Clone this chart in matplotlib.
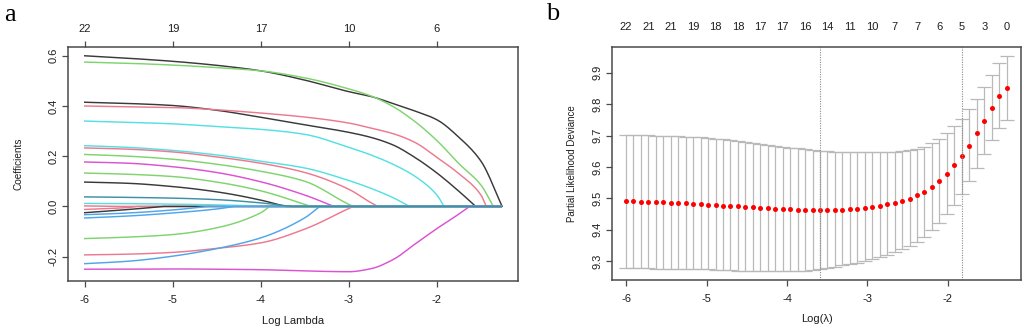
import numpy as np
import matplotlib
matplotlib.use("Agg")
import matplotlib.pyplot as plt

plt.rcParams['font.family'] = ['Liberation Sans', 'DejaVu Sans']

# ---------------- Panel a: LASSO coefficient paths ----------------
grid_x = [-6.0, -5.5, -5.0, -4.5, -4.0, -3.5, -3.0, -2.75, -2.5, -2.25, -2.0, -1.75, -1.5]
path_end = -1.27

coef_A = [0.600, 0.590, 0.578, 0.562, 0.540, 0.503, 0.457, 0.438, 0.410, 0.380, 0.345, 0.275, 0.180]
coef_B = [0.575, 0.570, 0.563, 0.553, 0.540, 0.512, 0.468, 0.440, 0.398, 0.338, 0.262, 0.170, 0.085]
coef_C = [0.415, 0.410, 0.402, 0.383, 0.355, 0.325, 0.295, 0.275, 0.245, 0.195, 0.133, 0.060]
coef_D = [0.400, 0.397, 0.394, 0.385, 0.372, 0.356, 0.332, 0.312, 0.290, 0.255, 0.195, 0.130, 0.045]
coef_E = [0.340, 0.335, 0.329, 0.318, 0.307, 0.287, 0.235, 0.205, 0.168, 0.120, 0.045]
coef_F = [0.242, 0.235, 0.223, 0.205, 0.180, 0.153, 0.103, 0.072, 0.035]
coef_G = [0.233, 0.228, 0.217, 0.197, 0.172, 0.135, 0.068, 0.015]
coef_H = [0.207, 0.200, 0.188, 0.168, 0.140, 0.100, 0.008]
coef_I = [0.177, 0.172, 0.158, 0.135, 0.098, 0.045]
coef_J = [0.133, 0.128, 0.119, 0.097, 0.062, 0.008]
coef_K = [0.097, 0.092, 0.079, 0.058, 0.025]
coef_L = [0.038, 0.036, 0.033, 0.027, 0.014]
coef_M = [0.012, 0.011, 0.009, 0.006, 0.001]
coef_N = [0.002]
coef_O = [-0.025, -0.012]
coef_P = [-0.012, -0.004]
coef_Q = [-0.033, -0.026, -0.014]
coef_R = [-0.046, -0.038, -0.026, -0.010]
coef_S = [-0.128, -0.122, -0.112, -0.085, -0.025]
coef_T = [-0.193, -0.190, -0.183, -0.167, -0.145, -0.090, -0.008]
coef_U = [-0.228, -0.218, -0.198, -0.168, -0.125, -0.045]
coef_V = [-0.250, -0.250, -0.249, -0.250, -0.252, -0.257, -0.260, -0.248, -0.212, -0.150, -0.088, -0.030]

coef_paths = [coef_N, coef_P, coef_O, coef_A, coef_B, coef_C, coef_D, coef_E, coef_F, coef_G,
              coef_H, coef_I, coef_J, coef_K, coef_M, coef_S, coef_T, coef_U, coef_V,
              coef_Q, coef_R, coef_L]
zero_at = [-5.6, -5.4, -5.1, -1.26, -1.36, -1.56, -1.44, -1.92, -2.31, -2.67,
           -2.95, -3.17, -3.43, -3.72, -3.95, -3.90, -2.95, -3.33, -1.63,
           -4.6, -4.3, -3.65]

BLACK, RED, GREEN, BLUE, CYAN, MAGENTA = '#3a3a3a', '#EC7A8E', '#7FD46E', '#4FA6EA', '#55E0E3', '#DB52D2'
coef_colors = [RED, RED, BLACK, BLACK, GREEN, BLACK, RED, CYAN, CYAN, RED,
               GREEN, MAGENTA, GREEN, BLACK, CYAN, GREEN, RED, BLUE, MAGENTA,
               BLUE, BLUE, '#3f8fa6']

top_a_ticks = [-6, -5, -4, -3, -2]
top_a_labels = ['22', '19', '17', '10', '6']

# ---------------- Panel b: cross-validation curve ----------------
log_lambda = [-6.000, -5.907, -5.815, -5.722, -5.629, -5.536, -5.444, -5.351, -5.258, -5.166,
              -5.073, -4.980, -4.888, -4.795, -4.702, -4.609, -4.517, -4.424, -4.331, -4.239,
              -4.146, -4.053, -3.961, -3.868, -3.775, -3.682, -3.590, -3.497, -3.404, -3.312,
              -3.219, -3.126, -3.034, -2.941, -2.848, -2.755, -2.663, -2.570, -2.477, -2.385,
              -2.292, -2.199, -2.106, -2.014, -1.921, -1.828, -1.736, -1.643, -1.550, -1.457,
              -1.365, -1.272]
cv_mean = [9.490, 9.490, 9.489, 9.489, 9.488, 9.487, 9.486, 9.485, 9.484, 9.483,
           9.482, 9.480, 9.479, 9.477, 9.476, 9.474, 9.472, 9.471, 9.469, 9.468,
           9.467, 9.466, 9.465, 9.464, 9.463, 9.462, 9.462, 9.462, 9.463, 9.464,
           9.465, 9.467, 9.470, 9.473, 9.477, 9.481, 9.486, 9.492, 9.499, 9.509,
           9.521, 9.536, 9.555, 9.578, 9.605, 9.634, 9.668, 9.707, 9.748, 9.787,
           9.826, 9.852]
cv_upper = [9.703, 9.703, 9.702, 9.701, 9.700, 9.700, 9.699, 9.698, 9.697, 9.695,
            9.694, 9.692, 9.690, 9.688, 9.686, 9.683, 9.680, 9.677, 9.674, 9.671,
            9.668, 9.665, 9.662, 9.659, 9.656, 9.653, 9.651, 9.650, 9.649, 9.648,
            9.648, 9.648, 9.648, 9.648, 9.648, 9.648, 9.649, 9.650, 9.653, 9.657,
            9.664, 9.675, 9.690, 9.707, 9.729, 9.754, 9.784, 9.818, 9.854, 9.892,
            9.930, 9.955]
cv_lower = [9.277, 9.277, 9.277, 9.277, 9.276, 9.276, 9.276, 9.275, 9.275, 9.274,
            9.274, 9.273, 9.272, 9.271, 9.270, 9.269, 9.268, 9.268, 9.267, 9.267,
            9.267, 9.267, 9.267, 9.268, 9.269, 9.271, 9.273, 9.278, 9.282, 9.286,
            9.290, 9.295, 9.301, 9.307, 9.313, 9.320, 9.328, 9.337, 9.349, 9.362,
            9.378, 9.398, 9.422, 9.450, 9.480, 9.515, 9.555, 9.598, 9.642, 9.685,
            9.724, 9.749]
nonzero_counts = ['22', '21', '21', '19', '18', '18', '17', '17', '16', '14', '11', '10',
                  '7', '7', '6', '5', '3', '0']
lambda_min = -3.590
lambda_1se = -1.828


def pchip_curve(x, y, per_seg=12):
    """Shape-preserving cubic drawn through the read points (rendering only)."""
    x = np.asarray(x, float)
    y = np.asarray(y, float)
    n = len(x)
    if n < 3:
        return x, y
    h = np.diff(x)
    delta = np.diff(y) / h
    d = np.zeros(n)
    for k in range(1, n - 1):
        if delta[k - 1] * delta[k] <= 0:
            d[k] = 0.0
        else:
            w1 = 2 * h[k] + h[k - 1]
            w2 = h[k] + 2 * h[k - 1]
            d[k] = (w1 + w2) / (w1 / delta[k - 1] + w2 / delta[k])
    d[0] = delta[0]
    d[-1] = delta[-1]
    xs, ys = [], []
    for k in range(n - 1):
        t = np.linspace(0, 1, per_seg, endpoint=False)
        h00 = 2 * t**3 - 3 * t**2 + 1
        h10 = t**3 - 2 * t**2 + t
        h01 = -2 * t**3 + 3 * t**2
        h11 = t**3 - t**2
        xs.append(x[k] + t * h[k])
        ys.append(h00 * y[k] + h10 * h[k] * d[k] + h01 * y[k + 1] + h11 * h[k] * d[k + 1])
    xs.append([x[-1]])
    ys.append([y[-1]])
    return np.concatenate(xs), np.concatenate(ys)


# ---------------- Figure ----------------
fig = plt.figure(figsize=(10.24, 3.30), dpi=100)
FS = 8
SPINE = '#4a4a4a'
TXT = '#1e1e1e'


def style_axes(ax):
    for s in ax.spines.values():
        s.set_color(SPINE)
        s.set_linewidth(1.1)
    ax.tick_params(axis='both', direction='out', length=4, width=0.9, color=SPINE,
                   labelsize=FS, labelcolor=TXT, pad=3)
    ax.tick_params(axis='x', pad=6)
    for lab in ax.get_yticklabels():
        lab.set_rotation(90)
        lab.set_va('center')


# panel a
axa = fig.add_axes([68 / 1024, 49 / 330, 450 / 1024, 234 / 330])
for vals, z, c in zip(coef_paths, zero_at, coef_colors):
    n = len(vals)
    cx, cy = pchip_curve(list(grid_x[:n]) + [z], list(vals) + [0.0])
    xs = np.concatenate([cx, [path_end]])
    ys = np.concatenate([cy, [0.0]])
    axa.plot(xs, ys, color=c, lw=1.05, solid_joinstyle='round')
axa.set_xlim(-6.19, -1.08)
axa.set_ylim(-0.297, 0.635)
axa.set_xticks([-6, -5, -4, -3, -2])
axa.set_xticklabels(['-6', '-5', '-4', '-3', '-2'])
axa.set_yticks([-0.2, 0.0, 0.2, 0.4, 0.6])
axa.set_yticklabels(['-0.2', '0.0', '0.2', '0.4', '0.6'])
style_axes(axa)
axa.set_xlabel('Log Lambda', fontsize=FS, labelpad=8, color=TXT)
axa.set_ylabel('Coefficients', fontsize=7.2, labelpad=18, color=TXT)
ta = axa.secondary_xaxis('top')
ta.set_xticks(top_a_ticks)
ta.set_xticklabels(top_a_labels)
ta.tick_params(direction='out', length=4, width=0.9, color=SPINE, labelsize=FS,
               labelcolor=TXT, pad=5)
ta.spines['top'].set_visible(False)

# panel b
axb = fig.add_axes([612 / 1024, 50 / 330, 409 / 1024, 233 / 330])
mean = np.array(cv_mean)
err = [mean - np.array(cv_lower), np.array(cv_upper) - mean]
axb.errorbar(log_lambda, cv_mean, yerr=err, fmt='none', ecolor='#b9b9b9',
             elinewidth=0.9, capsize=4.8, capthick=0.9)
axb.plot(log_lambda, cv_mean, 'o', color='#ff0000', ms=3.6, mec='none')
for v in (lambda_min, lambda_1se):
    axb.axvline(v, color='#8a8a8a', lw=0.8, ls=(0, (1, 1.2)))
axb.set_xlim(-6.174, -1.093)
axb.set_ylim(9.2395, 9.9825)
axb.set_xticks([-6, -5, -4, -3, -2])
axb.set_xticklabels(['-6', '-5', '-4', '-3', '-2'])
axb.set_yticks([9.3, 9.4, 9.5, 9.6, 9.7, 9.8, 9.9])
style_axes(axb)
axb.set_xlabel('Log(\u03bb)', fontsize=FS, labelpad=7, color=TXT)
axb.set_ylabel('Partial Likelihood Deviance', fontsize=7, labelpad=11, color=TXT)
tb = axb.secondary_xaxis('top')
tb.set_xticks(log_lambda[::3])
tb.set_xticklabels(nonzero_counts)
tb.tick_params(length=0, labelsize=FS, labelcolor=TXT, pad=11)
tb.spines['top'].set_visible(False)

# panel letters
fig.text(4 / 1024, 1 - 15 / 330, 'a', fontsize=19, family=['Liberation Serif', 'DejaVu Serif'],
         va='center', ha='left')
fig.text(546 / 1024, 1 - 14 / 330, 'b', fontsize=19, family=['Liberation Serif', 'DejaVu Serif'],
         va='center', ha='left')

fig.savefig('out.png', dpi=100)
